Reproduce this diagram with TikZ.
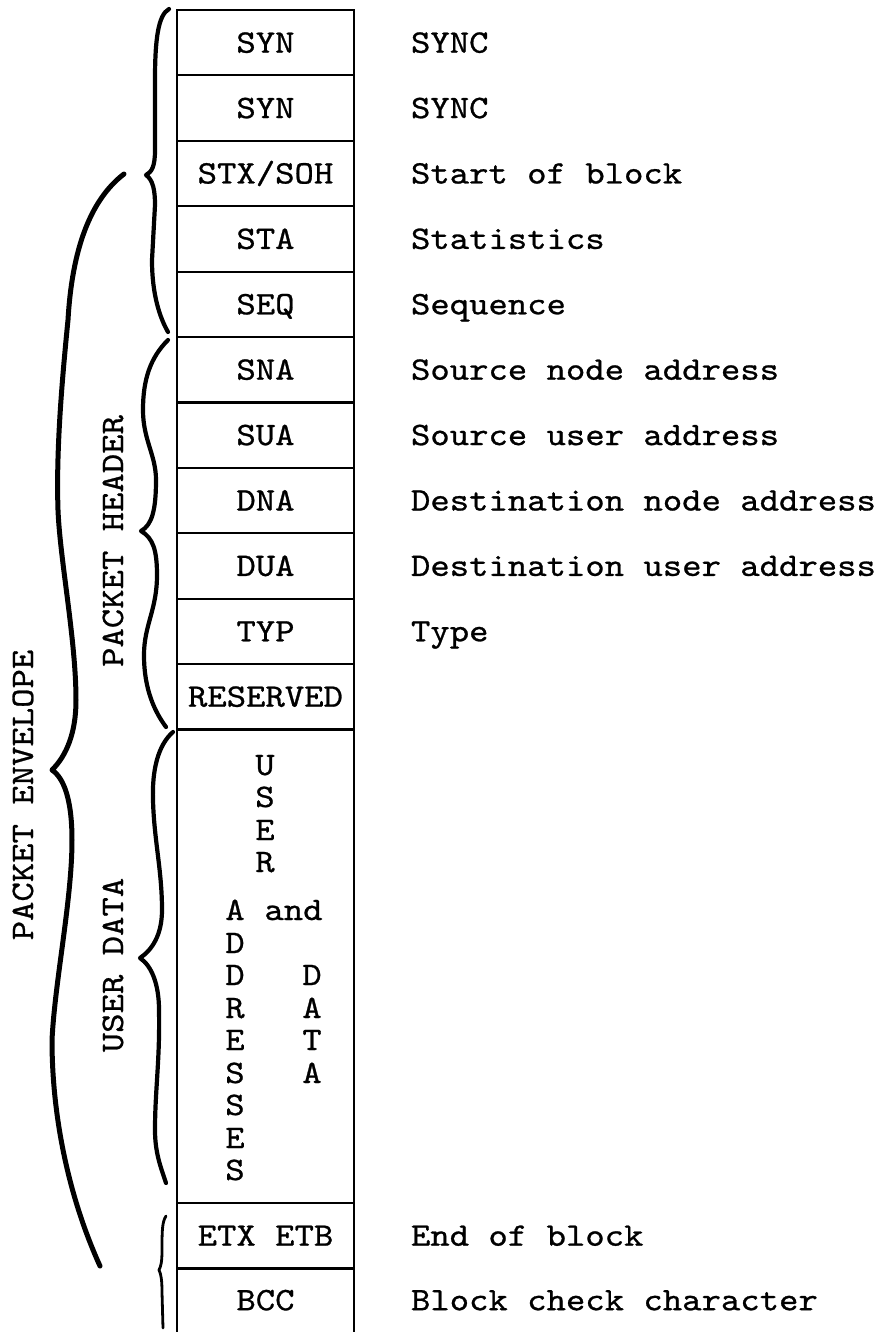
\documentclass[tikz,border=0pt]{standalone}
\usepackage{fontspec}
\newfontfamily\tw{lmmono10-regular.otf}[FakeStretch=1.125,FakeBold=0.8]
\begin{document}
\begin{tikzpicture}[x=0.5pt,y=-0.5pt,
  txt/.style={font=\tw\fontsize{16.4}{20}\selectfont, inner sep=0pt, outer sep=0pt, text height=10pt, text depth=0pt},
  cell/.style={txt, draw, line width=1.1pt, minimum width=88.5pt, minimum height=32.7pt},
  lab/.style={txt, anchor=west},
  side/.style={txt, rotate=90},
  brace/.style={line width=2.1pt, line cap=round, line join=round}]
\useasboundingbox (0,0) rectangle (881,1332);
% cells
\node[cell] (syn1) at (265.5,42.7) {SYN};
\node[cell] (syn2) at (265.5,108.1) {SYN};
\node[cell] (stx)  at (265.5,173.5) {STX/SOH};
\node[cell] (sta)  at (265.5,238.9) {STA};
\node[cell] (seq)  at (265.5,304.3) {SEQ};
\node[cell] (sna)  at (265.5,369.7) {SNA};
\node[cell] (sua)  at (265.5,435.1) {SUA};
\node[cell] (dna)  at (265.5,500.5) {DNA};
\node[cell] (dua)  at (265.5,565.9) {DUA};
\node[cell] (typ)  at (265.5,631.3) {TYP};
\node[cell] (res)  at (265.5,696.7) {RESERVED};
\node[cell, minimum height=236.5pt] (ud) at (265.5,966.5) {};
\node[cell] (etx)  at (265.5,1235.7) {ETX ETB};
\node[txt, minimum width=88.5pt, minimum height=31.8pt] (bcc) at (265.5,1300.2) {BCC};
\draw[line width=1.1pt] (bcc.north west) -- ([yshift=-2pt]bcc.south west);
\draw[line width=1.1pt] (bcc.north east) -- ([yshift=-2pt]bcc.south east);
% user data contents
\foreach \c/\yy [count=\i] in {U/765,S/797,E/830,R/862}
  \node[txt] (usr\i) at (265,\yy) {\c};
\foreach \c/\yy [count=\i] in {A/910,D/943,D/975,R/1008,E/1040,S/1073,S/1105,E/1138,S/1170}
  \node[txt] (adr\i) at (235,\yy) {\c};
\node[txt] (and) at (293.5,910) {and};
\foreach \c/\yy [count=\i] in {D/975,A/1008,T/1040,A/1073}
  \node[txt] (dat\i) at (312,\yy) {\c};
% right labels
\node[lab] (l1) at (411,42.7) {SYNC};
\node[lab] (l2) at (411,108.1) {SYNC};
\node[lab] (l3) at (411,173.5) {Start of block};
\node[lab] (l4) at (411,238.9) {Statistics};
\node[lab] (l5) at (411,304.3) {Sequence};
\node[lab] (l6) at (411,369.7) {Source node address};
\node[lab] (l7) at (411,435.1) {Source user address};
\node[lab] (l8) at (411,500.5) {Destination node address};
\node[lab] (l9) at (411,565.9) {Destination user address};
\node[lab] (l10) at (411,631.3) {Type};
\node[lab] (l11) at (411,1235.7) {End of block};
\node[lab] (l12) at (411,1300.2) {Block check character};
% side labels
\node[side] (env) at (23,795) {PACKET ENVELOPE};
\node[side] (hdr) at (113,541) {PACKET HEADER};
\node[side] (usd) at (113,965) {USER DATA};
% braces
\draw[brace] (169,9) .. controls (158,15) and (155,40) .. (155,80) -- (155,150) .. controls (155,166) and (152,172) .. (146,175)
  .. controls (153,180) and (155,190) .. (155,205) -- (152,260) .. controls (152,295) and (160,318) .. (168,332);
\draw[brace] (168,340) .. controls (150,358) and (143,380) .. (143,410) .. controls (143,440) and (156,455) .. (156,480)
  .. controls (156,510) and (152,525) .. (141,531)
  .. controls (153,538) and (157,550) .. (157,575) .. controls (157,610) and (144,625) .. (144,655)
  .. controls (144,690) and (155,712) .. (166,727);
\draw[brace] (173,732) .. controls (158,745) and (152,770) .. (153,800) .. controls (154,840) and (162,870) .. (162,910)
  .. controls (162,935) and (152,950) .. (140,958)
  .. controls (152,966) and (159,985) .. (159,1010) .. controls (160,1060) and (155,1090) .. (155,1130)
  .. controls (155,1155) and (162,1170) .. (166,1183);
\draw[brace, line width=2.5pt] (124,174) .. controls (90,200) and (72,250) .. (68,320) .. controls (62,380) and (56,450) .. (58,510)
  .. controls (60,560) and (76,640) .. (76,700) .. controls (76,740) and (62,760) .. (52,770)
  .. controls (64,778) and (72,800) .. (72,840) .. controls (72,900) and (55,980) .. (52,1040)
  .. controls (52,1120) and (70,1200) .. (100,1266);
\draw[brace, line width=1.4pt] (166,1216) .. controls (162,1222) and (162,1232) .. (162,1250)
  .. controls (162,1262) and (161,1266) .. (159,1270)
  .. controls (161,1274) and (162,1280) .. (162,1292) -- (163,1328);
\end{tikzpicture}
\end{document}
